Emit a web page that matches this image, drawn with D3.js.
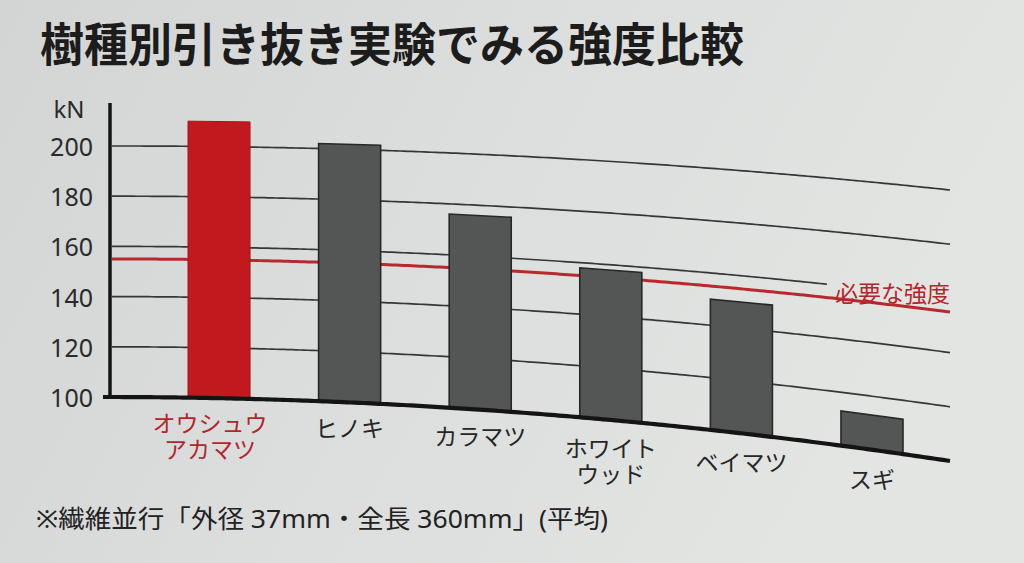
<!DOCTYPE html>
<html><head><meta charset="utf-8">
<script src="https://cdn.jsdelivr.net/npm/d3@7"></script>
<style>html,body{margin:0;padding:0;background:#dcdddb;overflow:hidden} svg{display:block}</style>
</head><body>
<svg id="chart" width="1024" height="563"></svg>
<script>
// ---------------- data ----------------
const titleText = "樹種別引き抜き実験でみる強度比較";
const categories = ["オウシュウアカマツ", "ヒノキ", "カラマツ", "ホワイトウッド", "ベイマツ", "スギ"];
const categoryLabelLines = [["オウシュウ", "アカマツ"], ["ヒノキ"], ["カラマツ"], ["ホワイト", "ウッド"], ["ベイマツ"], ["スギ"]];
const strengthValues = [210, 202, 176, 158, 150, 113];
const highlightedCategory = "オウシュウアカマツ";
const yTickValues = [100, 120, 140, 160, 180, 200];
const unitLabel = "kN";
const requiredStrength = 155;
const requiredLabel = "必要な強度";
const footnoteText = "※繊維並行「外径 37mm・全長 360mm」(平均)";

// ---------------- layout ----------------
const W = 1024, H = 563;
const plotLeft = 110, plotRight = 950;
const svg = d3.select("#chart");
const defs = svg.append("defs");
const bg = defs.append("linearGradient").attr("id", "bg").attr("x1", "0").attr("x2", "1").attr("y1", "0").attr("y2", "0.3");
bg.append("stop").attr("offset", "0").attr("stop-color", "#d3d5d4");
bg.append("stop").attr("offset", "0.5").attr("stop-color", "#dcdedd");
bg.append("stop").attr("offset", "1").attr("stop-color", "#e3e5e3");
svg.append("rect").attr("width", W).attr("height", H).attr("fill", "url(#bg)");

const x = d3.scaleBand().domain(categories).range([188, 903]).paddingInner(0.525).paddingOuter(0);
const y = d3.scaleLinear().domain([100, 200]).range([0, 1]);
// the printed page is photographed at an angle: the 100-baseline and the 200-line are curved
const tilt = d3.scaleLinear().domain([plotLeft, plotRight]).range([0, 1]);
const baseAt = px => { const t = tilt(px); return 397 + 1 * t + 63 * t * t; };
const topAt = px => { const t = tilt(px); return 146 - 1 * t + 45 * t * t; };
const proj = (px, v) => baseAt(px) - y(v) * (baseAt(px) - topAt(px));
const line = d3.line();
const sampled = (x0, x1, v) => d3.range(x0, x1, 4).concat([x1]).map(px => [px, proj(px, v)]);

const gGrid = svg.append("g");
const gReq = svg.append("g");
const gBars = svg.append("g");
const gAxis = svg.append("g");
const gText = svg.append("g");

// title
gText.append("text").attr("x", 40).attr("y", 41)
  .attr("dominant-baseline", "central")
  .attr("font-family", "'Noto Sans CJK JP'").attr("font-weight", 700).attr("font-size", 46)
  .attr("textLength", 704).attr("lengthAdjust", "spacingAndGlyphs")
  .attr("fill", "#1c1c1c").text(titleText);

// required-strength label (measured first so that grid lines can stop before it)
const reqLabel = gText.append("text")
  .attr("x", plotRight).attr("y", proj(plotRight, requiredStrength) - 20)
  .attr("text-anchor", "end").attr("dominant-baseline", "central")
  .attr("font-family", "'Noto Sans CJK JP'").attr("font-size", 23)
  .attr("fill", "#b3262b").text(requiredLabel);
const rb = reqLabel.node().getBBox();

// grid lines
yTickValues.filter(v => v > 100).forEach(v => {
  const yAtLabel = proj(rb.x, v);
  const endX = (yAtLabel > rb.y - 4 && yAtLabel < rb.y + rb.height + 4) ? rb.x - 8 : plotRight;
  gGrid.append("path").attr("d", line(sampled(plotLeft + 2, endX, v)))
    .attr("fill", "none").attr("stroke", "#363636").attr("stroke-width", 1.7);
});

// required strength line
gReq.append("path").attr("d", line(sampled(plotLeft + 2, plotRight, requiredStrength)))
  .attr("fill", "none").attr("stroke", "#b8282c").attr("stroke-width", 3);

// bars
categories.forEach((c, i) => {
  const x0 = x(c), x1 = x0 + x.bandwidth(), v = strengthValues[i];
  const pts = [[x0, proj(x0, 100)], [x0, proj(x0, v)], [x1, proj(x1, v)], [x1, proj(x1, 100)]];
  const hi = c === highlightedCategory;
  gBars.append("path").attr("d", line(pts) + "Z")
    .attr("fill", hi ? "#c2191e" : "#545655")
    .attr("stroke", hi ? "#a31418" : "#272727").attr("stroke-width", hi ? 1 : 1.6);
});

// axes
gAxis.append("line").attr("x1", plotLeft).attr("x2", plotLeft).attr("y1", 103).attr("y2", baseAt(plotLeft) + 2)
  .attr("stroke", "#141414").attr("stroke-width", 3.5);
gAxis.append("path").attr("d", line(sampled(plotLeft - 7, plotRight, 100)))
  .attr("fill", "none").attr("stroke", "#141414").attr("stroke-width", 4.2);

gText.selectAll("text.tick").data(yTickValues).join("text").attr("class", "tick")
  .attr("x", 93).attr("y", v => proj(plotLeft, v))
  .attr("text-anchor", "end").attr("dominant-baseline", "central")
  .attr("font-family", "'Noto Sans','Noto Sans CJK JP'").attr("font-size", 25)
  .attr("fill", "#2a2a2a").text(v => v);
gText.append("text").attr("x", 69).attr("y", 108)
  .attr("text-anchor", "middle").attr("dominant-baseline", "central")
  .attr("font-family", "'Noto Sans','Noto Sans CJK JP'").attr("font-size", 24)
  .attr("fill", "#2a2a2a").text(unitLabel);

// category labels
categories.forEach((c, i) => {
  const cx = x(c) + x.bandwidth() / 2;
  const y0 = baseAt(cx) + 23 + 6 * tilt(cx);
  const hi = c === highlightedCategory;
  const lx = cx - (hi ? 9 : 0);
  categoryLabelLines[i].forEach((s, k) => {
    gText.append("text").attr("text-anchor", "middle")
      .attr("font-family", "'Noto Sans CJK JP'").attr("font-size", 23)
      .attr("fill", hi ? "#b3262b" : "#262626")
      .attr("x", lx).attr("y", y0 + k * 26).attr("dominant-baseline", "central").text(s);
  });
});

// footnote
gText.append("text").attr("x", 36).attr("y", 518).attr("dominant-baseline", "central")
  .attr("font-family", "'Noto Sans','Noto Sans CJK JP'").attr("font-size", 25)
  .attr("textLength", 572).attr("lengthAdjust", "spacingAndGlyphs")
  .attr("fill", "#222").text(footnoteText);
</script>
</body></html>
